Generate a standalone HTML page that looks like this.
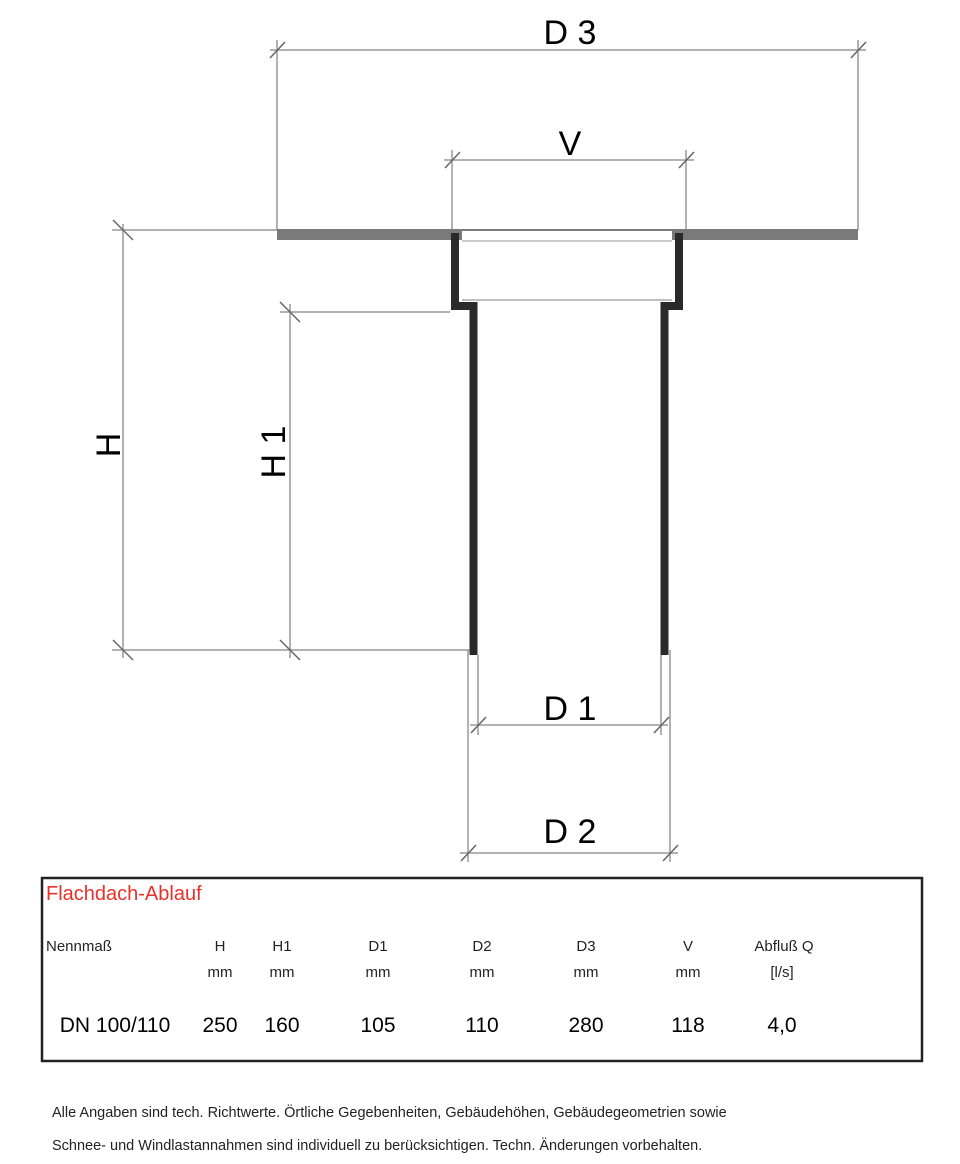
<!DOCTYPE html>
<html><head><meta charset="utf-8"><style>
html,body{margin:0;padding:0;background:#fff;width:960px;height:1164px;overflow:hidden}
svg{position:absolute;left:0;top:0}
.t{font-family:"Liberation Sans",Arial,sans-serif}
</style></head><body>
<svg width="960" height="1164" viewBox="0 0 960 1164">
<g stroke="#999" stroke-width="1.5" fill="none">
<line x1="270" y1="50" x2="866" y2="50"/>
<line x1="277" y1="40" x2="277" y2="230"/>
<line x1="858" y1="40" x2="858" y2="230"/>
<line x1="444" y1="160" x2="694" y2="160"/>
<line x1="452" y1="150" x2="452" y2="230"/>
<line x1="686" y1="150" x2="686" y2="230"/>
<line x1="123" y1="224" x2="123" y2="658"/>
<line x1="112" y1="230" x2="277" y2="230"/>
<line x1="112" y1="650" x2="470" y2="650"/>
<line x1="290" y1="304" x2="290" y2="658"/>
<line x1="280" y1="312" x2="450" y2="312"/>
<line x1="470" y1="725" x2="668" y2="725"/>
<line x1="478" y1="655" x2="478" y2="735"/>
<line x1="661" y1="655" x2="661" y2="735"/>
<line x1="460" y1="853" x2="678" y2="853"/>
<line x1="468" y1="650" x2="468" y2="862"/>
<line x1="670" y1="650" x2="670" y2="862"/>
</g>
<g stroke="#666" stroke-width="1.5">
<line x1="270" y1="58" x2="285" y2="42"/><line x1="851" y1="58" x2="866" y2="42"/>
<line x1="445" y1="168" x2="460" y2="152"/><line x1="679" y1="168" x2="694" y2="152"/>
<line x1="113" y1="220" x2="133" y2="240"/><line x1="113" y1="640" x2="133" y2="660"/>
<line x1="280" y1="302" x2="300" y2="322"/><line x1="280" y1="640" x2="300" y2="660"/>
<line x1="471" y1="733" x2="486" y2="717"/><line x1="654" y1="733" x2="669" y2="717"/>
<line x1="461" y1="861" x2="476" y2="845"/><line x1="663" y1="861" x2="678" y2="845"/>
</g>
<rect x="277" y="229" width="581" height="11" fill="#7a7a7a"/>
<rect x="462" y="231" width="210" height="9" fill="#fff"/>
<line x1="462" y1="241" x2="672" y2="241" stroke="#999" stroke-width="1"/>
<line x1="462" y1="300" x2="672" y2="300" stroke="#aaa" stroke-width="1.5"/>
<path d="M455 233 V306 H473.5 V655" stroke="#2a2a2a" stroke-width="8" fill="none"/>
<path d="M679 233 V306 H664.5 V655" stroke="#2a2a2a" stroke-width="8" fill="none"/>
<g class="t" fill="#000" font-size="34" text-anchor="middle">
<text x="570" y="44">D 3</text>
<text x="570" y="155">V</text>
<text x="570" y="720">D 1</text>
<text x="570" y="843">D 2</text>
<text transform="translate(120,445) rotate(-90)" >H</text>
<text transform="translate(285,452) rotate(-90)">H 1</text>
</g>
<rect x="42" y="878" width="880" height="183" fill="none" stroke="#222" stroke-width="2.5"/>
<g class="t">
<text x="46" y="900" font-size="20" fill="#e8302a">Flachdach-Ablauf</text>
<text x="46" y="951" font-size="15" fill="#222">Nennmaß</text>
<g font-size="15" fill="#222" text-anchor="middle">
<text x="220" y="951">H</text><text x="282" y="951">H1</text>
<text x="378" y="951">D1</text><text x="482" y="951">D2</text>
<text x="586" y="951">D3</text><text x="688" y="951">V</text>
<text x="784" y="951">Abfluß Q</text>
<text x="220" y="977">mm</text><text x="282" y="977">mm</text>
<text x="378" y="977">mm</text><text x="482" y="977">mm</text>
<text x="586" y="977">mm</text><text x="688" y="977">mm</text>
<text x="782" y="977">[l/s]</text>
</g>
<g font-size="21" fill="#000" text-anchor="middle">
<text x="115" y="1032">DN 100/110</text>
<text x="220" y="1032">250</text><text x="282" y="1032">160</text>
<text x="378" y="1032">105</text><text x="482" y="1032">110</text>
<text x="586" y="1032">280</text><text x="688" y="1032">118</text>
<text x="782" y="1032">4,0</text>
</g>
<text x="52" y="1117" font-size="14.5" fill="#222">Alle Angaben sind tech. Richtwerte. Örtliche Gegebenheiten, Gebäudehöhen, Gebäudegeometrien sowie</text>
<text x="52" y="1150" font-size="14.5" fill="#222">Schnee- und Windlastannahmen sind individuell zu berücksichtigen. Techn. Änderungen vorbehalten.</text>
</g>
</svg>
</body></html>
